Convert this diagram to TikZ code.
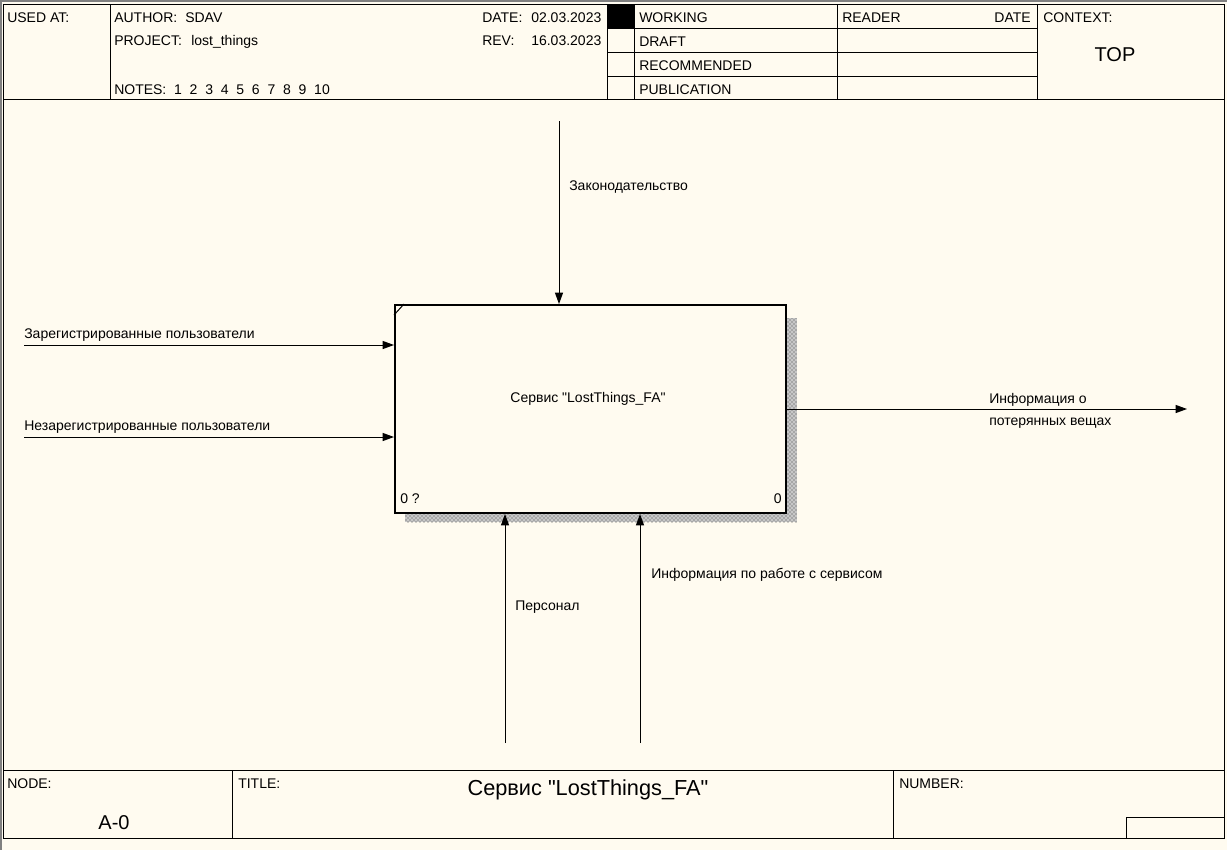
\documentclass[tikz,border=0pt]{standalone}
\usepackage{fontspec}
\setmainfont{Liberation Sans}
\usetikzlibrary{arrows.meta,patterns}

\definecolor{paper}{RGB}{255,251,240}
\tikzset{
  txt/.style={anchor=base west,inner sep=0pt,font=\fontsize{10.5}{12}\selectfont},
  bigtxt/.style={anchor=base,inner sep=0pt,font=\fontsize{15}{18}\selectfont},
  arr/.style={-{Triangle[length=8.5pt,width=6pt]},line width=0.75pt},
  frame/.style={line width=0.75pt},
  actbox/.style={draw,line width=1.5pt,fill=paper,inner sep=0pt,
    minimum width=293.25pt,minimum height=156pt},
}

\begin{document}
\begin{tikzpicture}[x=0.75pt,y=-0.75pt]
\fill[paper] (0,0) rectangle (1227,850);
\useasboundingbox (0,0) rectangle (1227,850);
\draw[gray,line width=1.5pt] (0,1) -- (1227,1);
\draw[gray,line width=1.5pt] (1,0) -- (1,850);

% frame
\draw[frame] (3,4) rectangle (1224,838);
\draw[frame] (3,99) -- (1224,99);
\draw[frame] (3,770) -- (1224,770);
\foreach \x in {110,607,634,837,1037}
  \draw[frame] (\x,4) -- (\x,99);
\foreach \y in {28,52,76}
  \draw[frame] (607,\y) -- (1037,\y);
\fill (607,4) rectangle (634,28);
\foreach \x in {232,893}
  \draw[frame] (\x,770) -- (\x,838);
\draw[frame] (1126,817) rectangle (1224,838);

% header
\node[txt] (usedat) at (7,22) {USED AT:};
\node[txt] (author) at (114,22) {AUTHOR:};
\node[txt] (authorval) at (185,22) {SDAV};
\node[txt] (project) at (114,45) {PROJECT:};
\node[txt] (projectval) at (191,45) {lost\_things};
\node[txt] (notes) at (114,94) {NOTES:\ \ 1\ \ 2\ \ 3\ \ 4\ \ 5\ \ 6\ \ 7\ \ 8\ \ 9\ \ 10};
\node[txt] (date) at (482,22) {DATE:};
\node[txt] (dateval) at (531,22) {02.03.2023};
\node[txt] (rev) at (482,45) {REV:};
\node[txt] (revval) at (531,45) {16.03.2023};
\node[txt] (working) at (639,22) {WORKING};
\node[txt] (draft) at (639,46) {DRAFT};
\node[txt] (recommended) at (639,70) {RECOMMENDED};
\node[txt] (publication) at (639,94) {PUBLICATION};
\node[txt] (reader) at (842,22) {READER};
\node[txt,anchor=base east] (readerdate) at (1031,22) {DATE};
\node[txt] (context) at (1043,22) {CONTEXT:};
\node[bigtxt] (top) at (1115,61) {TOP};

% activity
\fill[black!22] (405,318) rectangle (797,522);
\fill[pattern=crosshatch dots,pattern color=black!75] (405,318) rectangle (797,522);
\node[actbox] (fa) at (590.5,409) {};
\draw[line width=0.75pt] (fa.north west) ++(0,11) -- ++(10,-11);
\node[txt,anchor=base] (falbl) at (588,402) {Сервис \textquotedbl LostThings\_FA\textquotedbl};
\node[txt] (fanum) at (400,503) {0 ?};
\node[txt,anchor=base east] (faref) at (782,503) {0};

% arrows
\coordinate (ctl) at (559,121);
\draw[arr] (ctl) -- (ctl |- fa.north);
\node[txt] (ctllbl) at (569,190) {Законодательство};

\coordinate (in1) at (24,345);
\draw[arr] (in1) -- (in1 -| fa.west);
\node[txt] (in1lbl) at (24,338) {Зарегистрированные пользователи};
\coordinate (in2) at (24,437);
\draw[arr] (in2) -- (in2 -| fa.west);
\node[txt] (in2lbl) at (24,430) {Незарегистрированные пользователи};

\coordinate (out) at (1187,409);
\draw[arr] (fa.east) -- (out);
\node[txt] (outlbl1) at (989,403) {Информация о};
\node[txt] (outlbl2) at (989,425) {потерянных вещах};

\coordinate (mech1) at (505,743);
\draw[arr] (mech1) -- (mech1 |- fa.south);
\node[txt] (mech1lbl) at (515,610) {Персонал};
\coordinate (mech2) at (640,743);
\draw[arr] (mech2) -- (mech2 |- fa.south);
\node[txt] (mech2lbl) at (651,578) {Информация по работе с сервисом};

% footer
\node[txt] (nodelbl) at (7,788) {NODE:};
\node[bigtxt] (nodeval) at (114,829) {A-0};
\node[txt] (titlelbl) at (238,788) {TITLE:};
\node[bigtxt,font=\fontsize{16.3}{19}\selectfont] (titleval) at (588,795) {Сервис \textquotedbl LostThings\_FA\textquotedbl};
\node[txt] (numberlbl) at (899,788) {NUMBER:};
\end{tikzpicture}
\end{document}
